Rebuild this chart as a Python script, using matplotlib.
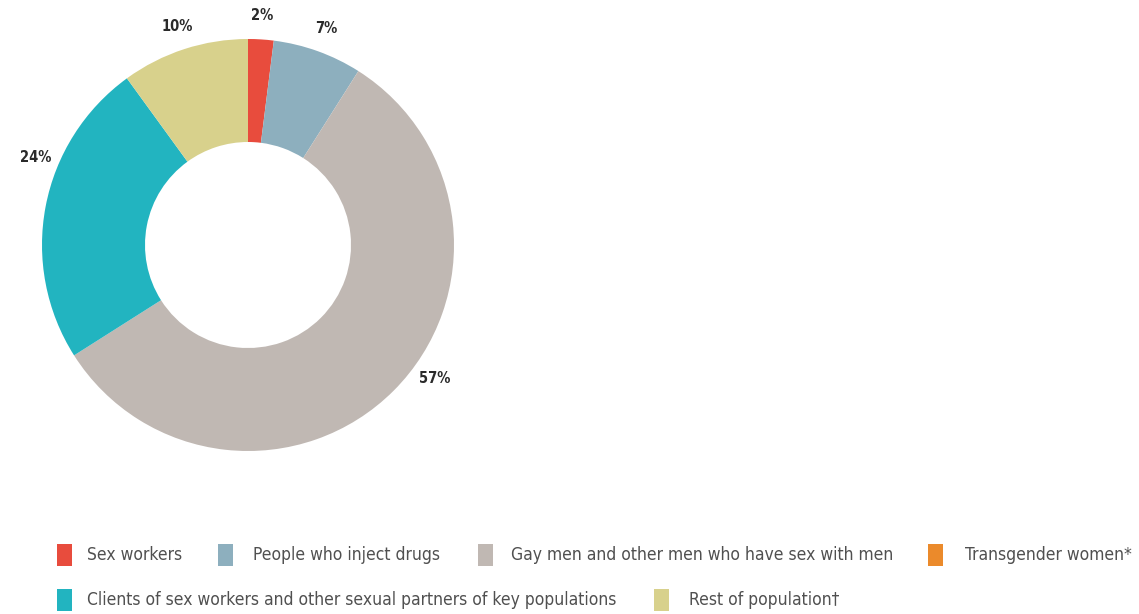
import numpy as np
import matplotlib
matplotlib.use("Agg")
import matplotlib.pyplot as plt
from matplotlib.patches import Rectangle

W, H = 1139, 614

# data
categories = ["Sex workers", "People who inject drugs",
              "Gay men and other men who have sex with men",
              "Transgender women*",
              "Clients of sex workers and other sexual partners of key populations",
              "Rest of population\u2020"]
shares = [2, 7, 57, 0, 24, 10]
share_labels = ["2%", "7%", "57%", "", "24%", "10%"]
colors = ["#E84C3D", "#8DAFBE", "#C0B8B3", "#EB8A2B", "#22B4C0", "#D8D18C"]

# layout (pixels)
cx, cy, r = 248, 245, 206
label_shift = [0, 0, 9.5, 0, -11.5, 0]   # degrees, nudges the outer labels
legend_rows = [[0, 1, 2, 3], [4, 5]]
legend_sq_x = [[57, 218, 478, 928], [57, 654]]
legend_txt_x = [[87, 253, 511, 965], [87, 689]]
legend_y = [555, 600]

plt.rcParams['font.family'] = ['DejaVu Sans']

fig = plt.figure(figsize=(W / 100, H / 100), dpi=100)
ax = fig.add_axes([(cx - r) / W, (H - cy - r) / H, 2 * r / W, 2 * r / H])
wedges, _ = ax.pie(shares, colors=colors, startangle=90, counterclock=False,
                   radius=1, wedgeprops=dict(width=0.5, linewidth=0))
ax.set_xlim(-1, 1)
ax.set_ylim(-1, 1)
ax.set_aspect('equal')
ax.axis('off')

for w, lab, sh in zip(wedges, share_labels, label_shift):
    if not lab:
        continue
    ang = np.deg2rad((w.theta1 + w.theta2) / 2 + sh)
    ax.text(1.115 * np.cos(ang), 1.115 * np.sin(ang), lab, ha='center', va='center',
            fontsize=10.5, fontweight='bold', fontstretch='condensed',
            color='#2a2a2a', clip_on=False)

for row, sxs, txs, y in zip(legend_rows, legend_sq_x, legend_txt_x, legend_y):
    for idx, sx, tx in zip(row, sxs, txs):
        fig.add_artist(Rectangle((sx / W, (H - y - 11) / H), 15 / W, 22 / H,
                                 transform=fig.transFigure, facecolor=colors[idx],
                                 edgecolor='none'))
        fig.text(tx / W, (H - y) / H, categories[idx], ha='left', va='center',
                 fontsize=12.5, fontstretch='condensed', color='#505050')

fig.savefig("out.png", dpi=100, facecolor='white')
